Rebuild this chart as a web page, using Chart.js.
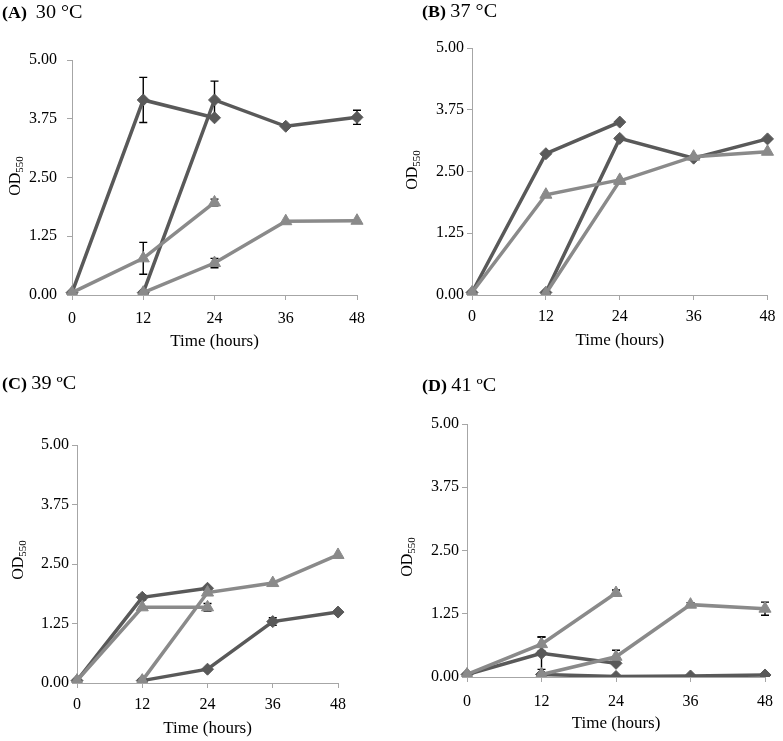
<!DOCTYPE html>
<html><head><meta charset="utf-8">
<script src="https://cdn.jsdelivr.net/npm/chart.js@4.4.0/dist/chart.umd.min.js"></script>
<style>
html,body{margin:0;padding:0;background:#fff;}
#wrap{position:relative;width:783px;height:741px;overflow:hidden;background:#fff;}
canvas{position:absolute;left:0;top:0;}
.ttl{position:absolute;font-family:"Liberation Serif","Times New Roman",serif;color:#000;white-space:nowrap;transform:scaleX(1.12);transform-origin:0 50%;line-height:22px;}
.ttl b{font-size:16px;}
.ttl span{font-size:18px;}
</style></head><body>
<div id="wrap">
<canvas id="cA" width="783" height="741"></canvas>
<canvas id="cB" width="783" height="741"></canvas>
<canvas id="cC" width="783" height="741"></canvas>
<canvas id="cD" width="783" height="741"></canvas>
<div class="ttl" style="left:2px;top:1px"><b>(A)</b>&nbsp; <span>30 °C</span></div>
<div class="ttl" style="left:422px;top:0px"><b>(B)</b> <span>37 °C</span></div>
<div class="ttl" style="left:2px;top:372px"><b>(C)</b> <span>39 ºC</span></div>
<div class="ttl" style="left:422px;top:374px"><b>(D)</b> <span>41 ºC</span></div>
</div>
<script>
// Shared axis data
const hours = ['0', '12', '24', '36', '48'];
const yTicks = [0, 1.25, 2.5, 3.75, 5];
const xTitle = 'Time (hours)';

// Panel A (30 °C)
const A_dia1 = [0.05, 4.15, 3.77, null, null];
const A_dia1Err = [0, 0.48, 0, null, null];
const A_dia2 = [null, 0.05, 4.15, 3.59, 3.78];
const A_dia2Err = [null, 0, 0.40, 0, 0.15];
const A_tri1 = [0.05, 0.78, 1.97, null, null];
const A_tri1Err = [0, 0.34, 0.07, null, null];
const A_tri2 = [null, 0.05, 0.68, 1.57, 1.58];
const A_tri2Err = [null, 0, 0.10, 0, 0];

// Panel B (37 °C)
const B_dia1 = [0.05, 2.86, 3.50, null, null];
const B_dia2 = [null, 0.05, 3.17, 2.77, 3.16];
const B_tri1 = [0.05, 2.03, 2.33, null, null];
const B_tri2 = [null, 0.03, 2.31, 2.80, 2.90];

// Panel C (39 ºC)
const C_dia1 = [0.05, 1.80, 1.99, null, null];
const C_dia1Err = [0, 0.05, 0, null, null];
const C_dia2 = [null, 0.05, 0.29, 1.29, 1.49];
const C_dia2Err = [null, 0, 0, 0.08, 0];
const C_tri1 = [0.05, 1.59, 1.59, null, null];
const C_tri1Err = [0, 0, 0.08, null, null];
const C_tri2 = [null, 0.05, 1.90, 2.10, 2.69];

// Panel D (41 ºC)
const D_dia1 = [0.05, 0.47, 0.27, null, null];
const D_dia1Err = [0, 0.32, 0, null, null];
const D_dia2 = [null, 0.05, 0.01, 0.02, 0.04];
const D_tri1 = [0.05, 0.65, 1.66, null, null];
const D_tri1Err = [0, 0.14, 0.06, null, null];
const D_tri2 = [null, 0.05, 0.40, 1.43, 1.35];
const D_tri2Err = [null, 0, 0.13, 0.04, 0.13];

const DIA = '#595959';
const TRI = '#8a8a8a';
const AXIS = '#a6a6a6';
const FONT = '"Liberation Serif","Times New Roman",serif';

const W = 783, H = 741;
const panels = [
  {id:'cA', L:72, R:357, T:60, B:295, tickPad:9.5, yPad:10, timeY:343, odX:14, odY:176,
   tri:[A_tri1, A_tri2], triErr:[A_tri1Err, A_tri2Err], dia:[A_dia1, A_dia2], diaErr:[A_dia1Err, A_dia2Err]},
  {id:'cB', L:472, R:772, T:48, B:295, tickPad:7.5, yPad:3, timeY:342, odX:411, odY:170,
   tri:[B_tri1, B_tri2], triErr:[null, null], dia:[B_dia1, B_dia2], diaErr:[null, null]},
  {id:'cC', L:77, R:338, T:445, B:683, tickPad:7.5, yPad:3, timeY:730, odX:17, odY:560,
   tri:[C_tri1, C_tri2], triErr:[C_tri1Err, null], dia:[C_dia1, C_dia2], diaErr:[C_dia1Err, C_dia2Err]},
  {id:'cD', L:467, R:772, T:424, B:677, tickPad:10, yPad:3, timeY:725, odX:406, odY:557,
   tri:[D_tri1, D_tri2], triErr:[D_tri1Err, D_tri2Err], dia:[D_dia1, D_dia2], diaErr:[D_dia1Err, null]}
];

const errorBars = {
  id: 'errorBars',
  beforeDatasetsDraw(chart) {
    const ctx = chart.ctx, ys = chart.scales.y;
    ctx.save();
    ctx.strokeStyle = '#000';
    ctx.lineWidth = 1.4;
    chart.data.datasets.forEach((ds, i) => {
      if (!ds.err) return;
      const meta = chart.getDatasetMeta(i);
      ds.err.forEach((e, j) => {
        if (!e || ds.data[j] == null) return;
        const x = meta.data[j].x;
        const yt = ys.getPixelForValue(ds.data[j] + e);
        const yb = ys.getPixelForValue(Math.max(0, ds.data[j] - e));
        ctx.beginPath();
        ctx.moveTo(x, yt); ctx.lineTo(x, yb);
        ctx.moveTo(x - 4, yt); ctx.lineTo(x + 4, yt);
        ctx.moveTo(x - 4, yb); ctx.lineTo(x + 4, yb);
        ctx.stroke();
      });
    });
    ctx.restore();
  }
};

const odTitle = {
  id: 'odTitle',
  afterDraw(chart, args, opts) {
    const ctx = chart.ctx;
    ctx.save();
    ctx.fillStyle = '#000';
    ctx.textBaseline = 'alphabetic';
    const big = '16px ' + FONT, small = '11px ' + FONT;
    ctx.font = big; const w1 = ctx.measureText('OD').width;
    ctx.font = small; const w2 = ctx.measureText('550').width;
    const total = w1 + w2;
    ctx.translate(opts.x, opts.y);
    ctx.rotate(-Math.PI / 2);
    ctx.font = big;
    ctx.fillText('OD', -total / 2, 6);
    ctx.font = small;
    ctx.fillText('550', -total / 2 + w1, 9);
    ctx.restore();
  }
};

function mk(p) {
  const yw = 68, xh = p.timeY - p.B + 9;
  const datasets = [];
  p.tri.forEach((d, k) => datasets.push({
    data: d, err: p.triErr[k], borderColor: TRI, backgroundColor: TRI,
    pointStyle: 'triangle', pointRadius: 7, pointBorderWidth: 1, borderWidth: 3.5, spanGaps: false
  }));
  p.dia.forEach((d, k) => datasets.push({
    data: d, err: p.diaErr[k], borderColor: DIA, backgroundColor: DIA,
    pointStyle: 'rectRot', pointRadius: 6, pointBorderWidth: 1, borderWidth: 3.5, spanGaps: false
  }));
  new Chart(document.getElementById(p.id), {
    type: 'line',
    data: { labels: hours, datasets },
    options: {
      responsive: false, animation: false, events: [], devicePixelRatio: 1,
      layout: { padding: { left: p.L - yw, right: W - p.R, top: p.T, bottom: H - p.B - xh } },
      plugins: { legend: {display: false}, tooltip: {enabled: false}, odTitle: {x: p.odX, y: p.odY} },
      elements: { line: { tension: 0 } },
      scales: {
        x: {
          type: 'category', offset: false,
          grid: { display: true, drawOnChartArea: false, drawTicks: true, tickLength: 5, color: AXIS, lineWidth: 1 },
          border: { color: AXIS, width: 1 },
          ticks: { color: '#000', font: { family: FONT, size: 16 }, padding: p.tickPad, maxRotation: 0, autoSkip: false },
          title: { display: true, text: xTitle, color: '#000', font: { family: FONT, size: 17 }, padding: 0 },
          afterFit(s) { s.height = xh; }
        },
        y: {
          min: 0, max: 5,
          afterBuildTicks(s) { s.ticks = yTicks.map(v => ({ value: v })); },
          grid: { display: true, drawOnChartArea: false, drawTicks: true, tickLength: 5, color: AXIS, lineWidth: 1 },
          border: { color: AXIS, width: 1 },
          ticks: { color: '#000', font: { family: FONT, size: 16 }, padding: p.yPad, callback: v => Number(v).toFixed(2) },
          afterFit(s) { s.width = yw; }
        }
      }
    },
    plugins: [errorBars, odTitle]
  });
}
panels.forEach(mk);
</script>
</body></html>
